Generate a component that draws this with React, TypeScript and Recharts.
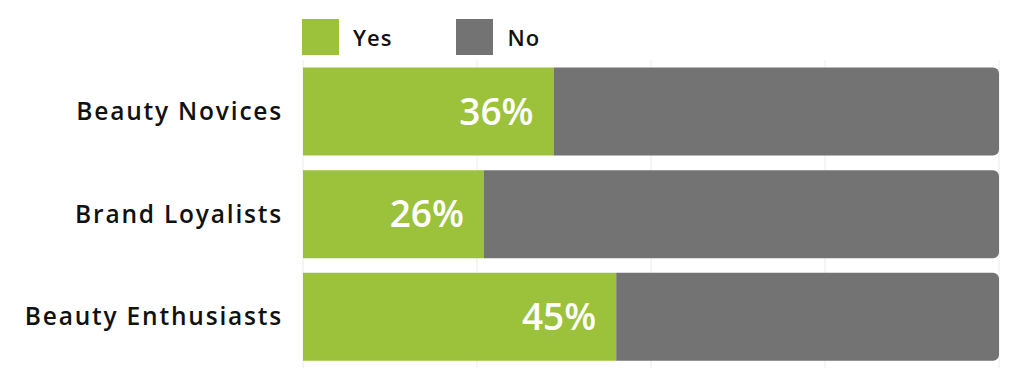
import { BarChart, Bar, XAxis, YAxis, CartesianGrid, LabelList } from "recharts";

const segments = ["Beauty Novices", "Brand Loyalists", "Beauty Enthusiasts"];
const yesValues = [36, 26, 45];
const noValues = [64, 74, 55];
const xTicks = [0, 25, 50, 75, 100];

const GREEN = "#9bc23a";
const GRAY = "#737373";
const FONT = "'Open Sans', sans-serif";

const data = segments.map((s, i) => ({ segment: s, yes: yesValues[i], no: noValues[i] }));

function LegendBox() {
  const item = (color: string, label: string, gap: number) => (
    <div style={{ display: "flex", alignItems: "center", marginRight: gap }}>
      <div style={{ width: 37, height: 36, background: color }} />
      <span style={{ marginLeft: 14, fontSize: 22, fontWeight: 600, letterSpacing: 1, color: "#111", fontFamily: FONT }}>{label}</span>
    </div>
  );
  return (
    <div style={{ position: "absolute", top: 19, left: 302, display: "flex" }}>
      {item(GREEN, "Yes", 64)}
      {item(GRAY, "No", 0)}
    </div>
  );
}

export default function App() {
  return (
    <div style={{ position: "fixed", left: 0, top: 0, width: 1024, height: 377, background: "#fff" }}>
      <LegendBox />
      <BarChart
        width={1024}
        height={377}
        data={data}
        layout="vertical"
        margin={{ top: 60, right: 25, bottom: 9, left: 0 }}
        barCategoryGap={7.5}
      >
        <CartesianGrid horizontal={false} stroke="#ececec" />
        <XAxis type="number" domain={[0, 100]} ticks={xTicks} hide />
        <YAxis
          type="category"
          dataKey="segment"
          width={303}
          axisLine={false}
          tickLine={false}
          tickSize={0}
          tickMargin={20}
          tick={{ fill: "#111", fontSize: 24.5, fontWeight: 600, letterSpacing: 1.8, fontFamily: FONT }}
        />
        <Bar dataKey="yes" stackId="a" fill={GREEN} isAnimationActive={false}>
          <LabelList
            dataKey="yes"
            position="insideRight"
            offset={20}
            formatter={(v: any) => `${v}%`}
            style={{ fill: "#fff", fontSize: 37, fontWeight: 600, fontFamily: FONT }}
          />
        </Bar>
        <Bar dataKey="no" stackId="a" fill={GRAY} radius={[0, 6, 6, 0]} isAnimationActive={false} />
      </BarChart>
    </div>
  );
}
